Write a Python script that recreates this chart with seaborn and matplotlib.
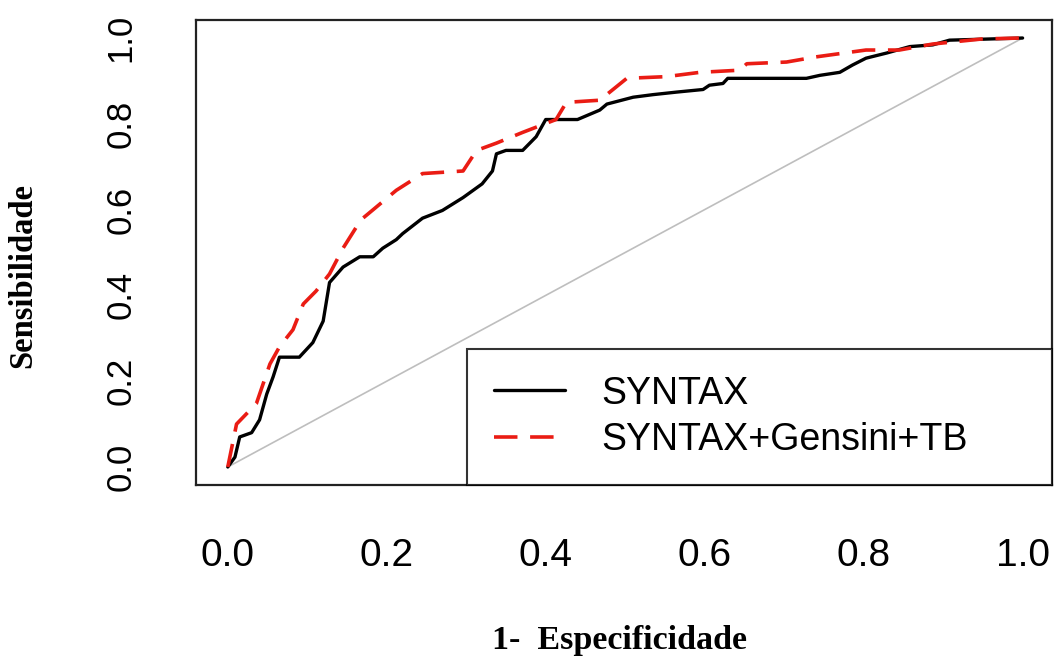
import pandas as pd
import numpy as np
import seaborn as sns
import matplotlib.pyplot as plt

# ROC points (1 - specificity, sensitivity)
syntax_fpr = [0, 0.009, 0.015, 0.03, 0.04, 0.049, 0.057, 0.065, 0.09, 0.107, 0.12, 0.128,
              0.145, 0.166, 0.183, 0.195, 0.212, 0.22, 0.245, 0.27, 0.296, 0.32, 0.333,
              0.338, 0.35, 0.371, 0.388, 0.40, 0.44, 0.468, 0.477, 0.51, 0.535, 0.565,
              0.598, 0.606, 0.623, 0.629, 0.728, 0.745, 0.77, 0.786, 0.803, 0.829, 0.858,
              0.887, 0.908, 1.0]
syntax_tpr = [0, 0.023, 0.07, 0.08, 0.11, 0.17, 0.21, 0.256, 0.256, 0.29, 0.34, 0.43,
              0.466, 0.49, 0.49, 0.51, 0.53, 0.544, 0.58, 0.598, 0.628, 0.66, 0.69,
              0.73, 0.738, 0.738, 0.77, 0.81, 0.81, 0.832, 0.846, 0.862, 0.868, 0.874,
              0.88, 0.89, 0.894, 0.906, 0.906, 0.913, 0.92, 0.937, 0.953, 0.965, 0.98,
              0.984, 0.995, 1.0]

combo_fpr = [0, 0.011, 0.036, 0.053, 0.065, 0.082, 0.095, 0.111, 0.128, 0.145, 0.162,
             0.17, 0.183, 0.212, 0.245, 0.296, 0.313, 0.338, 0.371, 0.413, 0.426, 0.468,
             0.502, 0.552, 0.594, 0.644, 0.653, 0.703, 0.74, 0.803, 0.845, 0.887, 0.95, 1.0]
combo_tpr = [0, 0.10, 0.148, 0.24, 0.28, 0.32, 0.38, 0.41, 0.45, 0.51, 0.56,
             0.58, 0.60, 0.645, 0.684, 0.69, 0.738, 0.755, 0.78, 0.81, 0.85, 0.855,
             0.906, 0.91, 0.92, 0.925, 0.94, 0.944, 0.956, 0.972, 0.972, 0.986, 0.998, 1.0]

labels = ["SYNTAX", "SYNTAX+Gensini+TB"]
ticks = [0.0, 0.2, 0.4, 0.6, 0.8, 1.0]

df1 = pd.DataFrame({'fpr': syntax_fpr, 'tpr': syntax_tpr})
df2 = pd.DataFrame({'fpr': combo_fpr, 'tpr': combo_tpr})
diag = pd.DataFrame({'fpr': [0, 1], 'tpr': [0, 1]})

sns.set_style("white")
plt.rcParams['font.family'] = ['Liberation Sans', 'DejaVu Sans']
plt.rcParams['text.color'] = 'black'
plt.rcParams['xtick.color'] = 'black'
plt.rcParams['ytick.color'] = 'black'

fig = plt.figure(figsize=(10.55, 6.59), dpi=100)
ax = fig.add_axes([196/1055, 1 - 485/659, 856/1055, 465/659])

sns.lineplot(data=diag, x='fpr', y='tpr', color='#bebebe', linewidth=1.2, ax=ax)
sns.lineplot(data=df1, x='fpr', y='tpr', sort=False, estimator=None, color='black',
             linewidth=2.4, label=labels[0], ax=ax)
sns.lineplot(data=df2, x='fpr', y='tpr', sort=False, estimator=None, color='#ea1c14',
             linewidth=2.6, linestyle=(0, (6.5, 3.5)), label=labels[1], ax=ax)

ax.set_xlim(-0.04, 1.037)
ax.set_ylim(-0.042, 1.042)
ax.set_xticks(ticks)
ax.set_yticks(ticks)
ax.set_xticklabels([f"{t:.1f}" for t in ticks], fontsize=28)
ax.set_yticklabels([f"{t:.1f}" for t in ticks], fontsize=25, rotation=90, va='center')
ax.tick_params(axis='both', direction='out', length=18, width=1.5, color='#111111')
ax.tick_params(axis='x', pad=20)
ax.tick_params(axis='y', pad=24)
ax.set_xlabel('')
ax.set_ylabel('')
for s in ax.spines.values():
    s.set_linewidth(1.6)
    s.set_color('#222222')

leg = ax.legend(loc='lower left', bbox_to_anchor=(0.3166, 0, 0.6834, 0.284), mode='expand',
                borderaxespad=0, fontsize=27, frameon=True, fancybox=False,
                handlelength=1.9, handletextpad=0.95, labelspacing=0.28, borderpad=0.72)
leg.get_frame().set_edgecolor('black')
leg.get_frame().set_linewidth(1.5)

fig.text(620/1055, 1 - 640/659, '1-  Especificidade', family='Liberation Serif',
         fontweight='bold', fontsize=24.5, ha='center', va='center')
fig.text(23/1055, 1 - 275/659, 'Sensibilidade', family='Liberation Serif',
         fontweight='bold', fontsize=23.5, ha='center', va='center', rotation=90)

fig.savefig('out.png', dpi=100)
